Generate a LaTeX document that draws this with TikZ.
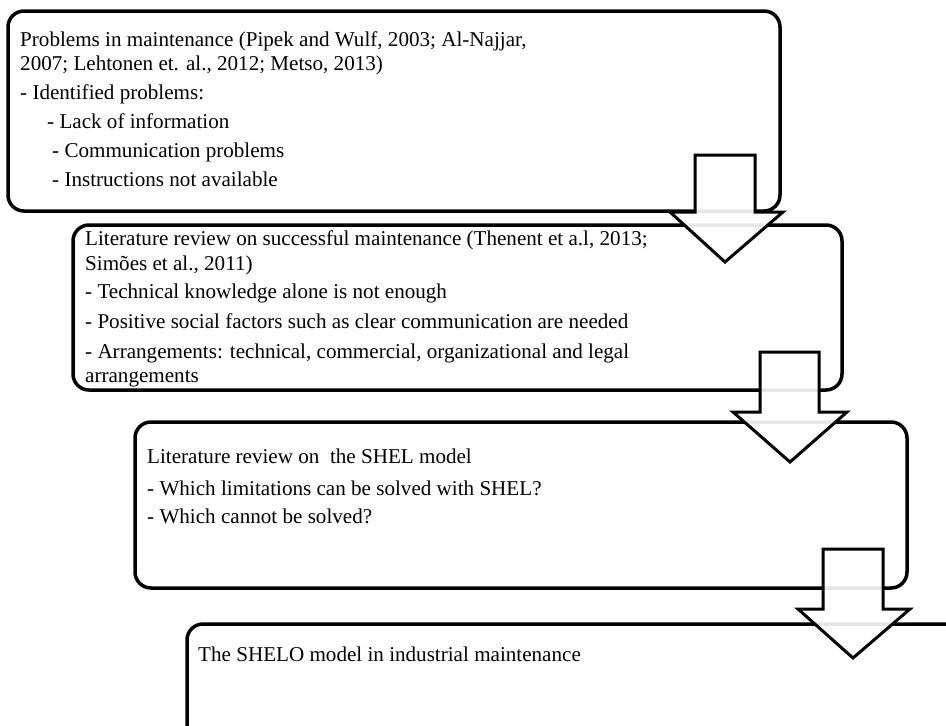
\documentclass[tikz,border=0pt]{standalone}
\usepackage{fontspec}
\setmainfont{Liberation Serif}
\begin{document}
\begin{tikzpicture}[x=1pt,y=-1pt,
  boxstyle/.style={draw=black,line width=3.5pt,rounded corners=16pt},
  arrowstyle/.style={draw=black,line width=3pt,fill=white,fill opacity=0.9,line join=miter},
  txt/.style={anchor=base west,inner sep=0pt,font=\fontsize{21.1}{24}\selectfont}]
\useasboundingbox (0,0) rectangle (946,726);
\clip (0,0) rectangle (946,726);
% boxes
\draw[boxstyle] (8,11) rectangle (780,211);
\draw[boxstyle] (73,225) rectangle (842,390);
\draw[boxstyle] (135,422) rectangle (907,588);
\draw[boxstyle] (187,624) rectangle (980,760);
% box 1 text
\node[txt] (t11) at (20,46) {Problems in maintenance (Pipek and Wulf, 2003; Al-Najjar,};
\node[txt] (t12) at (20,70) {2007; Lehtonen et. al., 2012; Metso, 2013)};
\node[txt] (t13) at (20,99) {- Identified problems:};
\node[txt] (t14) at (47,128) {- Lack of information};
\node[txt] (t15) at (52,157) {- Communication problems};
\node[txt] (t16) at (52,186) {- Instructions not available};
% box 2 text
\node[txt] (t21) at (85,245) {Literature review on successful maintenance (Thenent et a.l, 2013;};
\node[txt] (t22) at (85,270) {Simões et al., 2011)};
\node[txt] (t23) at (85,298) {- Technical knowledge alone is not enough};
\node[txt] (t24) at (85,328) {- Positive social factors such as clear communication are needed};
\node[txt] (t25) at (85,358) {- Arrangements: technical, commercial, organizational and legal};
\node[txt] (t26) at (85,382) {arrangements};
% box 3 text
\node[txt] (t31) at (147,463) {Literature review on \ the SHEL model};
\node[txt] (t32) at (147,495) {- Which limitations can be solved with SHEL?};
\node[txt] (t33) at (147,523) {- Which cannot be solved?};
% box 4 text
\node[txt] (t41) at (198,661) {The SHELO model in industrial maintenance};
% arrows
\draw[arrowstyle] (695,155) -- (755,155) -- (755,212) -- (783,212) -- (725,262) -- (670,212) -- (695,212) -- cycle;
\draw[arrowstyle] (760,352) -- (819,352) -- (819,412) -- (847,412) -- (790,462) -- (733,412) -- (760,412) -- cycle;
\draw[arrowstyle] (823,549) -- (883,549) -- (883,609) -- (910,609) -- (853,658) -- (798,609) -- (823,609) -- cycle;
\end{tikzpicture}
\end{document}
